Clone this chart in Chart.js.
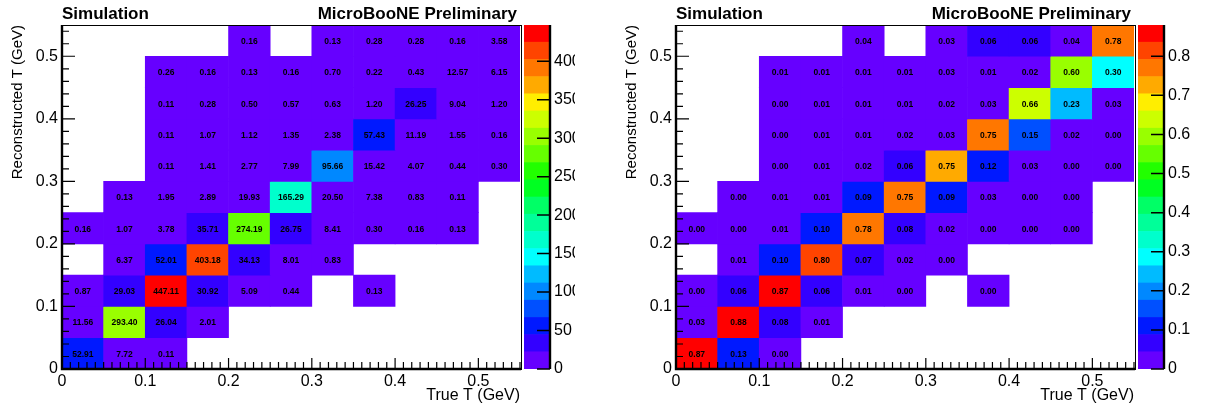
<!DOCTYPE html>
<html>
<head>
<meta charset="utf-8">
<script src="https://cdn.jsdelivr.net/npm/chart.js@4.4.1/dist/chart.umd.min.js"></script>
<style>
  body { margin: 0; background: #fff; width: 1205px; height: 408px; position: relative; overflow: hidden; }
  canvas { position: absolute; top: 0; }
</style>
</head>
<body>
<canvas id="mapL" width="540" height="408" style="left:0"></canvas>
<canvas id="barL" width="65" height="408" style="left:510px"></canvas>
<canvas id="mapR" width="540" height="408" style="left:614px"></canvas>
<canvas id="barR" width="81" height="408" style="left:1124px"></canvas>
<script>
const FONT = '"Liberation Sans", Arial, Helvetica, sans-serif';

// bins: 11 x 11, width 0.05 GeV, rows listed from the lowest reco bin upwards
const binWidth = 0.05;
const xTickValues = [0, 0.1, 0.2, 0.3, 0.4, 0.5];
const yTickValues = [0, 0.1, 0.2, 0.3, 0.4, 0.5];
const countTicks = [0, 50, 100, 150, 200, 250, 300, 350, 400];
const fracTicks = [0, 0.1, 0.2, 0.3, 0.4, 0.5, 0.6, 0.7, 0.8];

// left: event counts (null = empty bin)
const counts = [
    [52.91, 7.72, 0.11, null, null, null, null, null, null, null, null],
    [11.56, 293.40, 26.04, 2.01, null, null, null, null, null, null, null],
    [0.87, 29.03, 447.11, 30.92, 5.09, 0.44, null, 0.13, null, null, null],
    [null, 6.37, 52.01, 403.18, 34.13, 8.01, 0.83, null, null, null, null],
    [0.16, 1.07, 3.78, 35.71, 274.19, 26.75, 8.41, 0.30, 0.16, 0.13, null],
    [null, 0.13, 1.95, 2.89, 19.93, 165.29, 20.50, 7.38, 0.83, 0.11, null],
    [null, null, 0.11, 1.41, 2.77, 7.99, 95.66, 15.42, 4.07, 0.44, 0.30],
    [null, null, 0.11, 1.07, 1.12, 1.35, 2.38, 57.43, 11.19, 1.55, 0.16],
    [null, null, 0.11, 0.28, 0.50, 0.57, 0.63, 1.20, 26.25, 9.04, 1.20],
    [null, null, 0.26, 0.16, 0.13, 0.16, 0.70, 0.22, 0.43, 12.57, 6.15],
    [null, null, null, null, 0.16, null, 0.13, 0.28, 0.28, 0.16, 3.58]
];

// right: column-normalised fractions
const fractions = [
    [0.87, 0.13, 0.00, null, null, null, null, null, null, null, null],
    [0.03, 0.88, 0.08, 0.01, null, null, null, null, null, null, null],
    [0.00, 0.06, 0.87, 0.06, 0.01, 0.00, null, 0.00, null, null, null],
    [null, 0.01, 0.10, 0.80, 0.07, 0.02, 0.00, null, null, null, null],
    [0.00, 0.00, 0.01, 0.10, 0.78, 0.08, 0.02, 0.00, 0.00, 0.00, null],
    [null, 0.00, 0.01, 0.01, 0.09, 0.752, 0.09, 0.03, 0.00, 0.00, null],
    [null, null, 0.00, 0.01, 0.02, 0.06, 0.747, 0.12, 0.03, 0.00, 0.00],
    [null, null, 0.00, 0.01, 0.01, 0.02, 0.03, 0.752, 0.15, 0.02, 0.00],
    [null, null, 0.00, 0.01, 0.01, 0.01, 0.02, 0.03, 0.658, 0.23, 0.03],
    [null, null, 0.01, 0.01, 0.01, 0.01, 0.03, 0.01, 0.02, 0.60, 0.30],
    [null, null, null, null, 0.04, null, 0.03, 0.06, 0.06, 0.04, 0.78]
];

// 20-step rainbow palette, bottom to top
const palette = [
    '#6600ff', '#3300ff', '#0019ff', '#0050ff', '#0088ff',
    '#00bbff', '#00ffff', '#00ffcc', '#00ff99', '#00ff66',
    '#00ff22', '#22ff00', '#66ff00', '#99ff00', '#ccff00',
    '#ffee00', '#ffaa00', '#ff7700', '#ff4400', '#ff0000'
];

function colorFor(v, zMax) {
    const i = Math.min(palette.length - 1, Math.floor(v / zMax * palette.length));
    return palette[i];
}

function cellsFrom(grid) {
    const cells = [];
    grid.forEach((row, iy) => row.forEach((v, ix) => {
        if (v === null) return;
        cells.push({ x: (ix + 0.5) * binWidth, y: [iy * binWidth, (iy + 1) * binWidth], v: v });
    }));
    return cells;
}

const tickText = v => String(+(+v).toFixed(2));

// frame, inward ticks, cell numbers and header texts
const mapDecor = {
    id: 'mapDecor',
    afterDatasetsDraw(chart) {
        const { ctx, chartArea: a, scales: { x, y } } = chart;
        const ds = chart.data.datasets[0];
        const meta = chart.getDatasetMeta(0);
        ctx.save();
        ctx.fillStyle = '#000';
        ctx.font = 'bold 8.5px ' + FONT;
        ctx.textAlign = 'center';
        ctx.textBaseline = 'middle';
        meta.data.forEach((el, i) => {
            ctx.fillText(ds.data[i].v.toFixed(2), el.x, (el.y + el.base) / 2 + 1);
        });

        ctx.strokeStyle = '#000';
        ctx.lineWidth = 1;
        ctx.strokeRect(a.left + 0.5, a.top + 0.5, a.width + 1, a.height);

        ctx.lineWidth = 1.2;
        ctx.beginPath();
        for (let k = 0; k <= 55; k++) {
            const px = x.getPixelForValue(k / 100);
            const len = k % 10 === 0 ? 11 : 7;
            ctx.moveTo(px, a.bottom);
            ctx.lineTo(px, a.bottom - len);
        }
        for (let k = 0; k <= 27; k++) {
            const py = y.getPixelForValue(k * 0.02);
            const len = k % 5 === 0 ? 13 : 7;
            ctx.moveTo(a.left, py);
            ctx.lineTo(a.left + len, py);
        }
        ctx.stroke();

        ctx.lineWidth = 2.4;
        ctx.beginPath();
        ctx.moveTo(a.left, a.top);
        ctx.lineTo(a.left, a.bottom);
        ctx.lineTo(a.right + 1, a.bottom);
        ctx.stroke();

        ctx.font = 'bold 17px ' + FONT;
        ctx.textBaseline = 'middle';
        ctx.textAlign = 'left';
        ctx.fillText('Simulation', a.left, 14);
        ctx.textAlign = 'right';
        ctx.fillText('MicroBooNE Preliminary', a.right - 3, 14);
        ctx.restore();
    }
};

function makeMap(id, grid) {
    const cells = cellsFrom(grid);
    const zMax = Math.max(...cells.map(c => c.v));
    return new Chart(document.getElementById(id), {
        type: 'bar',
        data: {
            datasets: [{
                data: cells,
                backgroundColor: cells.map(c => colorFor(c.v, zMax)),
                borderWidth: 0,
                barPercentage: 1,
                categoryPercentage: 1
            }]
        },
        options: {
            responsive: false,
            animation: false,
            events: [],
            layout: { padding: { top: 25, right: 20 } },
            plugins: { legend: { display: false }, tooltip: { enabled: false } },
            scales: {
                x: {
                    type: 'linear', min: 0, max: 0.55, offset: false,
                    grid: { display: false, drawTicks: false },
                    border: { display: false },
                    afterBuildTicks: s => { s.ticks = xTickValues.map(v => ({ value: v })); },
                    afterFit: s => { s.height = 39; },
                    ticks: { padding: 3, color: '#000', autoSkip: false, maxRotation: 0,
                             font: { size: 16, family: FONT }, callback: tickText },
                    title: { display: true, text: 'True T (GeV)', align: 'end', color: '#000',
                             font: { size: 16, family: FONT }, padding: { top: 0, bottom: 3 } }
                },
                y: {
                    type: 'linear', min: 0, max: 0.55,
                    grid: { display: false, drawTicks: false },
                    border: { display: false },
                    afterBuildTicks: s => { s.ticks = yTickValues.map(v => ({ value: v })); },
                    afterFit: s => { s.width = 62; },
                    ticks: { padding: 4, color: '#000', autoSkip: false,
                             font: { size: 16, family: FONT }, callback: tickText },
                    title: { display: true, text: 'Reconstructed T (GeV)', align: 'end', color: '#000',
                             font: { size: 15, family: FONT }, padding: { top: 9, bottom: 0 } }
                }
            }
        },
        plugins: [mapDecor]
    });
}

// colour scale: axis line on the right with inward ticks
const barDecor = {
    id: 'barDecor',
    afterDatasetsDraw(chart) {
        const { ctx, chartArea: a, scales: { y } } = chart;
        ctx.save();
        ctx.strokeStyle = '#000';
        ctx.lineWidth = 1.5;
        ctx.beginPath();
        y.ticks.forEach(t => {
            const py = y.getPixelForValue(t.value);
            ctx.moveTo(a.right, py);
            ctx.lineTo(a.right - 13, py);
        });
        ctx.stroke();
        ctx.lineWidth = 2.4;
        ctx.beginPath();
        ctx.moveTo(a.right, a.top);
        ctx.lineTo(a.right, a.bottom);
        ctx.stroke();
        ctx.restore();
    }
};

function makeScale(id, grid, tickVals) {
    const zMax = Math.max(...grid.flat().filter(v => v !== null));
    const canvas = document.getElementById(id);
    return new Chart(canvas, {
        type: 'bar',
        data: {
            labels: [''],
            datasets: palette.map((col, i) => ({
                data: [[zMax * i / palette.length, zMax * (i + 1) / palette.length]],
                backgroundColor: col,
                borderWidth: 0,
                barPercentage: 1,
                categoryPercentage: 1
            }))
        },
        options: {
            responsive: false,
            animation: false,
            events: [],
            layout: { padding: { top: 25, bottom: 39, left: 14 } },
            plugins: { legend: { display: false }, tooltip: { enabled: false } },
            scales: {
                x: { display: false, stacked: true },
                y: {
                    position: 'right', min: 0, max: zMax, stacked: false,
                    grid: { display: false, drawTicks: false },
                    border: { display: false },
                    afterBuildTicks: s => { s.ticks = tickVals.map(v => ({ value: v })); },
                    afterFit: s => { s.width = canvas.width - 40; },
                    ticks: { padding: 4, color: '#000', autoSkip: false,
                             font: { size: 16, family: FONT }, callback: tickText }
                }
            }
        },
        plugins: [barDecor]
    });
}

makeMap('mapL', counts);
makeScale('barL', counts, countTicks);
makeMap('mapR', fractions);
makeScale('barR', fractions, fracTicks);
</script>
</body>
</html>
